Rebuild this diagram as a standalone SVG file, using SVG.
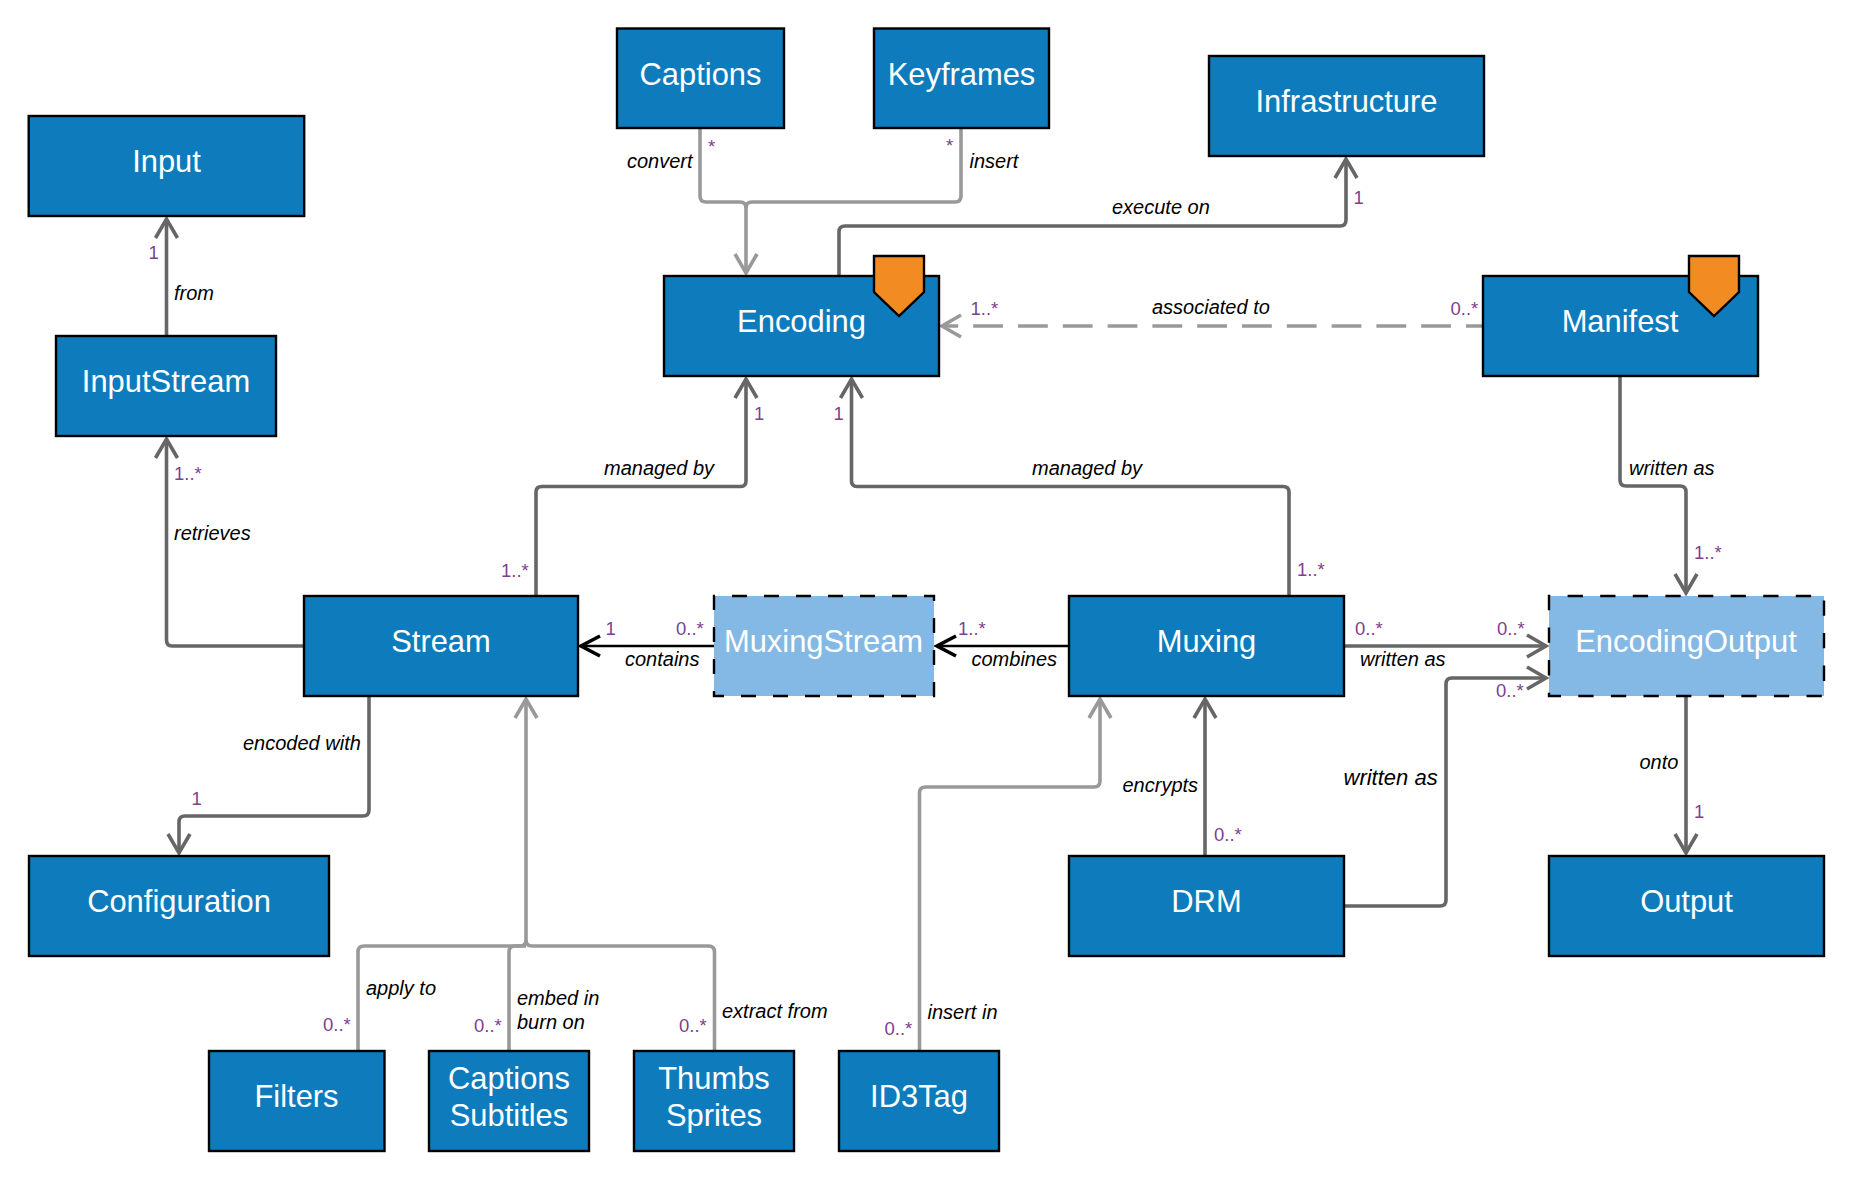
<svg xmlns="http://www.w3.org/2000/svg" width="1871" height="1198" viewBox="0 0 1871 1198">
<style>
.n{fill:#0e7cbc;stroke:#000;stroke-width:2.4}
.d{fill:#85b9e5;stroke:#000;stroke-width:2.4;stroke-dasharray:15 17;stroke-dashoffset:14}
.p{fill:#f28c22;stroke:#000;stroke-width:2.4}
.t{font:30.9px "Liberation Sans",Arial,sans-serif;fill:#fff;text-anchor:middle}
.l{font:italic 20px "Liberation Sans",Arial,sans-serif;fill:#000}
.m{font:18.5px "Liberation Sans",Arial,sans-serif;fill:#7f3f8f}
.c{fill:none;stroke-width:3.6}
.k{stroke:#666}.g{stroke:#999}.b{stroke:#000;stroke-width:2.6}
.me{fill:none;stroke-width:3.6}
</style>
<defs>
<marker id="ak" markerUnits="userSpaceOnUse" markerWidth="40" markerHeight="40" refX="30" refY="20" orient="auto"><path class="me k" d="M11 9L30 20L11 31"/></marker>
<marker id="ag" markerUnits="userSpaceOnUse" markerWidth="40" markerHeight="40" refX="30" refY="20" orient="auto"><path class="me g" d="M11 9L30 20L11 31"/></marker>
<marker id="ab" markerUnits="userSpaceOnUse" markerWidth="40" markerHeight="40" refX="30" refY="20" orient="auto"><path class="me" stroke="#000" stroke-width="2.6" d="M11 10L30 20L11 30"/></marker>
</defs>
<g id="connectors">
<path class="c k" marker-end="url(#ak)" d="M166.500 336V219"/>
<path class="c k" marker-end="url(#ak)" d="M304 646H172Q166.500 646 166.500 640V439"/>
<path class="c k" marker-end="url(#ak)" d="M536 596V492Q536 486.500 542 486.500H741Q746 486.500 746 481V379"/>
<path class="c k" marker-end="url(#ak)" d="M1289 596V492Q1289 486.500 1283 486.500H857Q851.500 486.500 851.500 481V379"/>
<path class="c k" marker-end="url(#ak)" d="M839 276V232Q839 226 845 226H1340Q1346 226 1346 220V159"/>
<path class="c g" marker-end="url(#ag)" stroke-dasharray="29.8 15" stroke-dashoffset="12.8" d="M1483 326H942"/>
<path class="c k" marker-end="url(#ak)" d="M1620 376V480Q1620 486 1626 486H1680Q1686 486 1686 492V593"/>
<path class="c b" marker-end="url(#ab)" d="M714 646H581"/>
<path class="c b" marker-end="url(#ab)" d="M1069 646H937"/>
<path class="c k" marker-end="url(#ak)" d="M1344 646H1546"/>
<path class="c k" marker-end="url(#ak)" d="M1344 906H1440Q1446 906 1446 900V684Q1446 678 1452 678H1546"/>
<path class="c k" marker-end="url(#ak)" d="M1205 856V699"/>
<path class="c k" marker-end="url(#ak)" d="M1686 696V853"/>
<path class="c k" marker-end="url(#ak)" d="M369 696V810Q369 816 363 816H185Q179 816 179 822V853"/>
<path class="c g" marker-end="url(#ag)" d="M700 128V196Q700 202 706 202H740Q746 202 746 208V273"/>
<path class="c g" d="M961 128V196Q961 202 955 202H752Q746 202 746 208"/>
<path class="c g" marker-end="url(#ag)" d="M358 1051V952Q358 946 364 946H520Q526 946 526 940V699"/>
<path class="c g" d="M509 1051V952Q509 946 515 946H526"/>
<path class="c g" d="M714.500 1051V952Q714.500 946 708.500 946H532Q526 946 526 940"/>
<path class="c g" marker-end="url(#ag)" d="M919.500 1051V793Q919.500 787 925.500 787H1094Q1100 787 1100 781V699"/>
</g>
<g id="input"><rect class="n" x="28.700" y="116" width="275.500" height="100"/><text class="t" x="166.500" y="172">Input</text></g>
<g id="inputstream"><rect class="n" x="56" y="336" width="220" height="100"/><text class="t" x="166" y="392">InputStream</text></g>
<g id="captions"><rect class="n" x="617" y="28.500" width="167" height="99.500"/><text class="t" x="700.500" y="84.500">Captions</text></g>
<g id="keyframes"><rect class="n" x="874" y="28.500" width="175" height="99.500"/><text class="t" x="961.500" y="84.500">Keyframes</text></g>
<g id="infrastructure"><rect class="n" x="1209" y="56" width="275" height="100"/><text class="t" x="1346.500" y="112">Infrastructure</text></g>
<g id="encoding"><rect class="n" x="664" y="276" width="275" height="100"/><path class="p" d="M874 256H924V292L899 316L874 292Z"/><text class="t" x="801.500" y="332">Encoding</text></g>
<g id="manifest"><rect class="n" x="1483" y="276" width="275" height="100"/><path class="p" d="M1689 256H1739V292L1714 316L1689 292Z"/><text class="t" x="1620" y="332">Manifest</text></g>
<g id="stream"><rect class="n" x="304" y="596" width="274" height="100"/><text class="t" x="441" y="652">Stream</text></g>
<g id="muxingstream"><rect class="d" x="714" y="596" width="220" height="100"/><text class="t" x="823.500" y="652">MuxingStream</text></g>
<g id="muxing"><rect class="n" x="1069" y="596" width="275" height="100"/><text class="t" x="1206.500" y="652">Muxing</text></g>
<g id="encodingoutput"><rect class="d" style="stroke-dasharray:15.300 17.300" x="1549" y="596" width="275" height="100"/><text class="t" x="1686" y="652">EncodingOutput</text></g>
<g id="configuration"><rect class="n" x="29" y="856" width="300" height="100"/><text class="t" x="179" y="912">Configuration</text></g>
<g id="drm"><rect class="n" x="1069" y="856" width="275" height="100"/><text class="t" x="1206.500" y="912">DRM</text></g>
<g id="output"><rect class="n" x="1549" y="856" width="275" height="100"/><text class="t" x="1686.500" y="912">Output</text></g>
<g id="filters"><rect class="n" x="209" y="1051" width="175.500" height="100"/><text class="t" x="296.500" y="1107">Filters</text></g>
<g id="captionssubtitles"><rect class="n" x="429" y="1051" width="160" height="100"/><text class="t" x="509" y="1089">Captions</text><text class="t" x="509" y="1126">Subtitles</text></g>
<g id="thumbssprites"><rect class="n" x="634" y="1051" width="160" height="100"/><text class="t" x="714" y="1089">Thumbs</text><text class="t" x="714" y="1126">Sprites</text></g>
<g id="id3tag"><rect class="n" x="839" y="1051" width="160" height="100"/><text class="t" x="919" y="1107">ID3Tag</text></g>
<g id="labels">
<text class="l" x="627" y="168">convert</text>
<text class="l" x="969.500" y="168">insert</text>
<text class="l" x="1112" y="214">execute on</text>
<text class="l" x="1152" y="314">associated to</text>
<text class="l" x="174" y="300">from</text>
<text class="l" x="174" y="540">retrieves</text>
<text class="l" x="604" y="474.500">managed by</text>
<text class="l" x="1032" y="474.500">managed by</text>
<text class="l" x="1629" y="474.500">written as</text>
<text class="l" x="625" y="666">contains</text>
<text class="l" x="971.500" y="666">combines</text>
<text class="l" x="1360" y="666">written as</text>
<text class="l" style="font-size:22px" x="1343.500" y="784.500">written as</text>
<text class="l" x="1639.500" y="769">onto</text>
<text class="l" x="1122.500" y="791.500">encrypts</text>
<text class="l" x="243" y="750">encoded with</text>
<text class="l" x="366" y="995">apply to</text>
<text class="l" x="517" y="1005">embed in</text>
<text class="l" x="517" y="1029">burn on</text>
<text class="l" x="722" y="1018">extract from</text>
<text class="l" x="927.500" y="1019">insert in</text>
<text class="m" x="708" y="153">*</text>
<text class="m" x="946" y="152">*</text>
<text class="m" x="970.500" y="315">1..*</text>
<text class="m" x="1450.500" y="315">0..*</text>
<text class="m" x="1353.500" y="204">1</text>
<text class="m" x="148.500" y="259">1</text>
<text class="m" x="174" y="480">1..*</text>
<text class="m" x="501" y="577">1..*</text>
<text class="m" x="754" y="420">1</text>
<text class="m" x="833.500" y="420">1</text>
<text class="m" x="1297" y="576">1..*</text>
<text class="m" x="1694" y="559">1..*</text>
<text class="m" x="605.500" y="635">1</text>
<text class="m" x="676" y="635">0..*</text>
<text class="m" x="958" y="635">1..*</text>
<text class="m" x="1355" y="635">0..*</text>
<text class="m" x="1497" y="635">0..*</text>
<text class="m" x="1496" y="697">0..*</text>
<text class="m" x="1694" y="818">1</text>
<text class="m" x="1214" y="841">0..*</text>
<text class="m" x="191.500" y="805">1</text>
<text class="m" x="323" y="1031">0..*</text>
<text class="m" x="474" y="1032">0..*</text>
<text class="m" x="679" y="1032">0..*</text>
<text class="m" x="884.500" y="1035">0..*</text>
</g>
</svg>
